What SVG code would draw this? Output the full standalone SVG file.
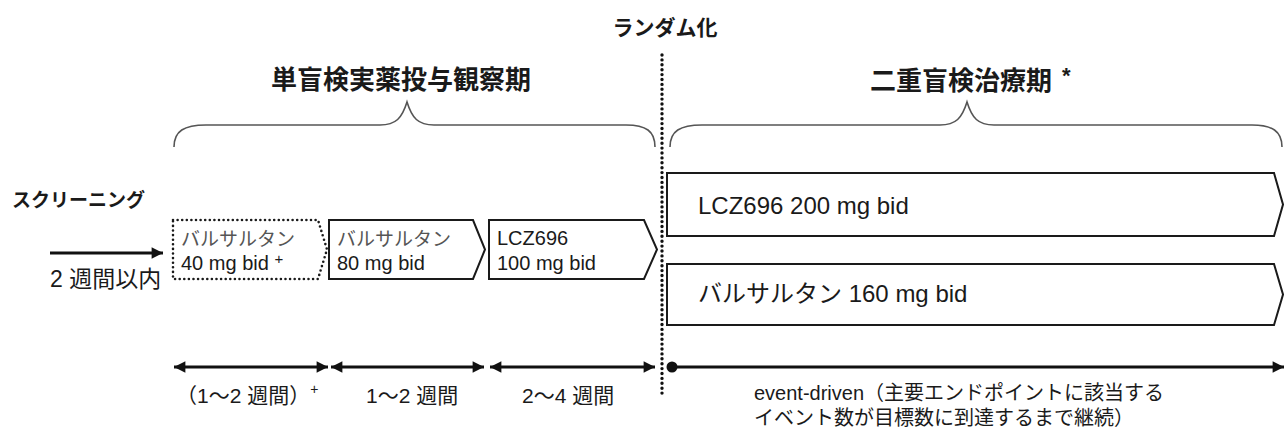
<svg xmlns="http://www.w3.org/2000/svg" width="1284" height="434" viewBox="0 0 1284 434">
<style>
text{font-family:"Liberation Sans","Noto Sans CJK JP",sans-serif;fill:#1a1a1a}
.b{font-weight:bold}
.h{font-size:26px;font-weight:bold}
.box{fill:#fff;stroke:#1a1a1a;stroke-width:2;stroke-linejoin:miter}
.dot{fill:#fff;stroke:#1a1a1a;stroke-width:2.6;stroke-dasharray:0 4.6;stroke-linecap:round}
.kata{font-size:19px;fill:#555}
.s{font-size:20px}
.big{font-size:24px}
.ar{stroke:#111;stroke-width:3;fill:none}
.brace{fill:none;stroke:#555;stroke-width:1.6}
.lab{font-size:21px}
</style>
<defs>
<marker id="ah" viewBox="0 0 10 10" refX="10" refY="5" markerWidth="4" markerHeight="3.8" orient="auto-start-reverse" markerUnits="strokeWidth">
<path d="M0,0 L10,5 L0,10 Z" fill="#111"/>
</marker>
</defs>

<g id="titles">
<text x="665" y="35" text-anchor="middle" class="b" style="font-size:21px">ランダム化</text>
<text x="401" y="89" text-anchor="middle" class="h">単盲検実薬投与観察期</text>
<text x="870" y="90" class="h">二重盲検治療期</text>
<text x="1062" y="83" class="b" style="font-size:22px">*</text>
<text x="12" y="207" class="b" style="font-size:19px">スクリーニング</text>
<text x="50" y="287" style="font-size:23px">2 週間以内</text>
</g>

<g id="connectors">
<line x1="662" y1="55" x2="662" y2="398" stroke="#111" stroke-width="3.4" stroke-dasharray="0 4.9" stroke-linecap="round"/>
<path class="brace" d="M174,147 C174,131 184,125 206,125 L380,125 C396,125 402,118 407,102 C412,118 418,125 434,125 L626,125 C646,125 655,131 655,147"/>
<path class="brace" d="M670,147 C670,131 680,125 702,125 L940,125 C956,125 962,118 967,102 C972,118 978,125 994,125 L1252,125 C1272,125 1282,131 1282,147"/>
<line class="ar" x1="50" y1="253" x2="163" y2="253" marker-end="url(#ah)"/>
<line class="ar" x1="174" y1="367" x2="328" y2="367" marker-start="url(#ah)" marker-end="url(#ah)"/>
<line class="ar" x1="331" y1="367" x2="484" y2="367" marker-start="url(#ah)" marker-end="url(#ah)"/>
<line class="ar" x1="490" y1="367" x2="655" y2="367" marker-start="url(#ah)" marker-end="url(#ah)"/>
<circle cx="672" cy="367" r="5.5" fill="#111"/>
<line class="ar" x1="672" y1="367" x2="1284" y2="367" marker-end="url(#ah)"/>
</g>

<g id="node-valsartan40">
<path class="dot" d="M173,220 H318 L327,249.5 L318,279 H173 Z"/>
<text x="181" y="246" class="kata">バルサルタン</text>
<text x="181" y="270" class="s">40 mg bid <tspan dy="-6" style="font-size:15px">+</tspan></text>
</g>

<g id="node-valsartan80">
<path class="box" d="M329,220 H473 L485,249.5 L473,279 H329 Z"/>
<text x="337" y="246" class="kata">バルサルタン</text>
<text x="337" y="270" class="s">80 mg bid</text>
</g>

<g id="node-lcz100">
<path class="box" d="M489,220 H644 L657,249.5 L644,279 H489 Z"/>
<text x="497" y="245" class="s">LCZ696</text>
<text x="497" y="270" class="s">100 mg bid</text>
</g>

<g id="node-lcz200">
<path class="box" d="M667,173 H1274 L1283,204.5 L1274,236 H667 Z"/>
<text x="698" y="214" class="big">LCZ696 200 mg bid</text>
</g>

<g id="node-valsartan160">
<path class="box" d="M667,264 H1274 L1283,294.5 L1274,325 H667 Z"/>
<text x="698" y="302" class="big">バルサルタン 160 mg bid</text>
</g>

<g id="durations">
<text x="176" y="403" class="lab">（1～2 週間）<tspan dy="-9" style="font-size:14px">+</tspan></text>
<text x="366" y="403" class="lab">1～2 週間</text>
<text x="522" y="403" class="lab">2～4 週間</text>
<text x="754" y="400" class="s">event-driven（主要エンドポイントに該当する</text>
<text x="754" y="425" class="s">イベント数が目標数に到達するまで継続）</text>
</g>
</svg>
